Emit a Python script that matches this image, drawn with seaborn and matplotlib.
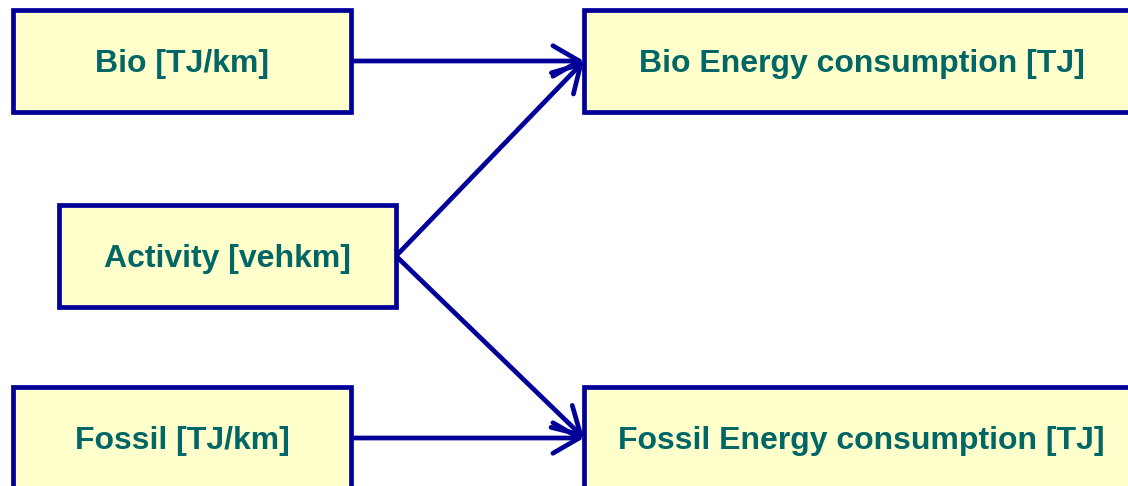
import matplotlib
matplotlib.use("Agg")
import matplotlib.pyplot as plt
from matplotlib.patches import Rectangle, FancyArrowPatch
import seaborn as sns

# Nodes and links of the diagram
nodes = ["Bio [TJ/km]", "Activity [vehkm]", "Fossil [TJ/km]",
         "Bio Energy consumption [TJ]", "Fossil Energy consumption [TJ]"]
links = [("Bio [TJ/km]", "Bio Energy consumption [TJ]"),
         ("Activity [vehkm]", "Bio Energy consumption [TJ]"),
         ("Activity [vehkm]", "Fossil Energy consumption [TJ]"),
         ("Fossil [TJ/km]", "Fossil Energy consumption [TJ]")]

# Layout (pixel coords, origin top-left): x0, y0, x1, y1
layout = {
    "Bio [TJ/km]": (13, 10, 351, 112),
    "Activity [vehkm]": (59, 205, 396, 307),
    "Fossil [TJ/km]": (13, 387, 351, 489),
    "Bio Energy consumption [TJ]": (584, 10, 1139, 112),
    "Fossil Energy consumption [TJ]": (584, 387, 1139, 489),
}

EDGE = "#000099"
FILL = "#FFFFCC"
TEXT = "#006666"

sns.set_theme(style="white")
plt.rcParams['font.family'] = ['Liberation Sans', 'DejaVu Sans']

fig = plt.figure(figsize=(11.28, 4.86), dpi=100)
ax = fig.add_axes([0, 0, 1, 1])
ax.set_xlim(0, 1128)
ax.set_ylim(486, 0)
ax.axis('off')

for name in nodes:
    x0, y0, x1, y1 = layout[name]
    ax.add_patch(Rectangle((x0, y0), x1 - x0, y1 - y0, facecolor=FILL,
                           edgecolor=EDGE, linewidth=3.4, zorder=2, clip_on=False))
    ax.text((x0 + x1) / 2, (y0 + y1) / 2 + 3, name, ha='center', va='center',
            color=TEXT, fontsize=23, fontweight='bold', zorder=3)

for src, dst in links:
    sx0, sy0, sx1, sy1 = layout[src]
    dx0, dy0, dx1, dy1 = layout[dst]
    start = (sx1, (sy0 + sy1) / 2)
    end = (dx0, (dy0 + dy1) / 2)
    ax.add_patch(FancyArrowPatch(start, end, arrowstyle='->,head_length=0.95,head_width=0.55',
                                 color=EDGE, linewidth=3.4, mutation_scale=20,
                                 shrinkA=0, shrinkB=0, zorder=1,
                                 joinstyle='round', capstyle='round'))

fig.savefig('out.png', dpi=100, facecolor='white')
